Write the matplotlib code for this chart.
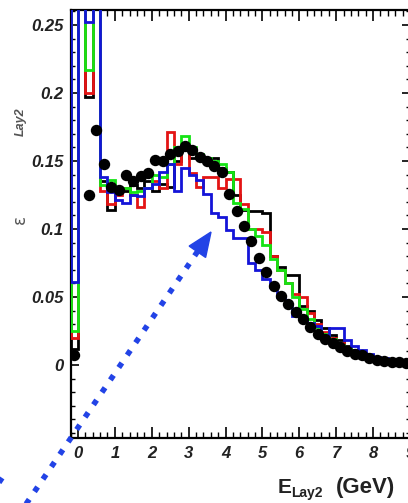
import numpy as np
import matplotlib
matplotlib.use("Agg")
import matplotlib.pyplot as plt
from matplotlib.patches import Polygon
from matplotlib.ticker import MultipleLocator, FixedLocator

# energy in layer 2, 0.2 GeV bins (first bin sits just left of the frame)
edges = np.round(np.arange(-0.4, 9.0001, 0.2), 2)

h_black = [0.60, 0.012, 0.42, 0.197, 0.34, 0.135, 0.114, 0.130, 0.128, 0.132,
           0.130, 0.135, 0.128, 0.133, 0.131, 0.150, 0.158, 0.152, 0.153, 0.152,
           0.152, 0.145, 0.142, 0.125, 0.114, 0.113, 0.113, 0.112, 0.080, 0.072,
           0.066, 0.066, 0.043, 0.040, 0.033, 0.027, 0.022, 0.018, 0.014, 0.011,
           0.009, 0.007, 0.005, 0.004, 0.003, 0.0025, 0.002]
h_red = [0.60, 0.020, 0.45, 0.200, 0.36, 0.128, 0.118, 0.125, 0.130, 0.125,
         0.116, 0.130, 0.135, 0.130, 0.171, 0.148, 0.160, 0.141, 0.131, 0.138,
         0.138, 0.130, 0.137, 0.137, 0.118, 0.100, 0.100, 0.098, 0.080, 0.070,
         0.060, 0.052, 0.050, 0.038, 0.030, 0.024, 0.020, 0.016, 0.012, 0.009,
         0.007, 0.006, 0.005, 0.004, 0.003, 0.002, 0.002]
h_green = [0.60, 0.025, 0.48, 0.217, 0.38, 0.132, 0.136, 0.128, 0.130, 0.127,
           0.128, 0.130, 0.140, 0.138, 0.148, 0.160, 0.168, 0.160, 0.155, 0.152,
           0.150, 0.148, 0.142, 0.119, 0.115, 0.100, 0.095, 0.088, 0.078, 0.070,
           0.060, 0.050, 0.041, 0.034, 0.028, 0.023, 0.019, 0.015, 0.012, 0.009,
           0.007, 0.006, 0.005, 0.004, 0.003, 0.0025, 0.002]
h_blue = [0.60, 0.061, 0.55, 0.252, 0.40, 0.138, 0.127, 0.121, 0.119, 0.125,
          0.124, 0.130, 0.133, 0.142, 0.148, 0.128, 0.145, 0.140, 0.136, 0.126,
          0.112, 0.109, 0.099, 0.093, 0.093, 0.075, 0.070, 0.063, 0.057, 0.050,
          0.044, 0.036, 0.034, 0.031, 0.029, 0.022, 0.027, 0.027, 0.018, 0.014,
          0.011, 0.008, 0.006, 0.005, 0.004, 0.003, 0.002]

# data points at bin centres
e_data = np.round(np.arange(-0.1, 8.95, 0.2), 2)
y_data = [0.0075, 0.32, 0.125, 0.173, 0.148, 0.131, 0.129, 0.140, 0.135, 0.139,
          0.141, 0.151, 0.150, 0.155, 0.157, 0.161, 0.158, 0.153, 0.150, 0.146,
          0.142, 0.126, 0.113, 0.102, 0.091, 0.079, 0.068, 0.058, 0.051, 0.045,
          0.039, 0.034, 0.028, 0.023, 0.019, 0.016, 0.013, 0.010, 0.008, 0.007,
          0.005, 0.004, 0.003, 0.0025, 0.002, 0.0015]

xticks = [0, 1, 2, 3, 4, 5, 6, 7, 8, 9]
yticks = [0, 0.05, 0.1, 0.15, 0.2, 0.25]
ytick_labels = ["0", "0.05", "0.1", "0.15", "0.2", "0.25"]

W, H = 408, 503
fig = plt.figure(figsize=(W / 100, H / 100), dpi=100)
ax = fig.add_axes([70.6 / W, 65 / H, 339.4 / W, 428 / H])

for vals, col in [(h_black, "black"), (h_red, "#e41414"),
                  (h_green, "#14e414"), (h_blue, "#1414d8")]:
    ax.stairs(vals, edges, color=col, lw=2.0, baseline=None, zorder=3)

ax.plot(e_data, y_data, "o", color="black", ms=7.2, zorder=4)

ax.set_xlim(-0.2, 9.0)
ax.set_ylim(-0.0537, 0.261)

tick_font = dict(family="Liberation Sans", weight="bold", style="italic",
                 size=12, color="#222222")
ax.xaxis.set_major_locator(FixedLocator(xticks))
ax.xaxis.set_minor_locator(MultipleLocator(0.2))
ax.yaxis.set_major_locator(FixedLocator(yticks))
ax.yaxis.set_minor_locator(MultipleLocator(0.01))
ax.set_xticklabels([str(t) for t in xticks], fontdict=tick_font)
ax.set_yticklabels(ytick_labels, fontdict=tick_font)

ax.tick_params(which="both", direction="in", top=True, right=True)
ax.tick_params(axis="x", which="major", length=8, width=1.2, pad=6)
ax.tick_params(axis="x", which="minor", length=4, width=1.0)
ax.tick_params(axis="y", which="major", length=6, width=1.2, pad=5)
ax.tick_params(axis="y", which="minor", length=3, width=1.0)
for s in ax.spines.values():
    s.set_linewidth(1.6)

# axis titles
lab = dict(family="Liberation Sans", weight="bold", color="#222222")
fig.text(278 / W, (H - 493) / H, "E", size=15, va="baseline", **lab)
fig.text(291 / W, (H - 497) / H, "Lay2", size=10, va="baseline", **lab)
fig.text(336 / W, (H - 493) / H, "(GeV)", size=16, va="baseline", **lab)
fig.text(21 / W, (H - 122) / H, "Lay2", size=9, rotation=90, ha="center",
         va="center", style="italic", family="Liberation Sans", weight="bold",
         color="#555555")
fig.text(20 / W, (H - 219) / H, "ε", size=12, rotation=90, ha="center",
         va="center", family="DejaVu Sans", color="#555555")

# dotted arrow pointing at the peak
arrow_col = "#2243e6"
tip = np.array([211.0, H - 232.0])
d = np.array([1.0, 1.45]) / np.hypot(1.0, 1.45)
base = tip - 24 * d
start = np.array([22.0, -7.0])
fig.add_artist(plt.Line2D([start[0] / W, base[0] / W], [start[1] / H, base[1] / H],
                          transform=fig.transFigure, color=arrow_col, lw=4.0,
                          linestyle=(0, (1.0, 1.7)), dash_capstyle="butt"))
perp = np.array([-d[1], d[0]])
tri = np.array([tip, base + 10 * perp, base - 10 * perp])
fig.add_artist(Polygon(tri / [W, H], closed=True, transform=fig.transFigure,
                       color=arrow_col))
fig.add_artist(plt.Line2D([-6 / W, 6 / W], [(H - 490) / H, (H - 472) / H],
                          transform=fig.transFigure, color=arrow_col, lw=4.0,
                          linestyle=(0, (1.0, 1.7)), dash_capstyle="butt"))

fig.savefig("out.png", dpi=100)
